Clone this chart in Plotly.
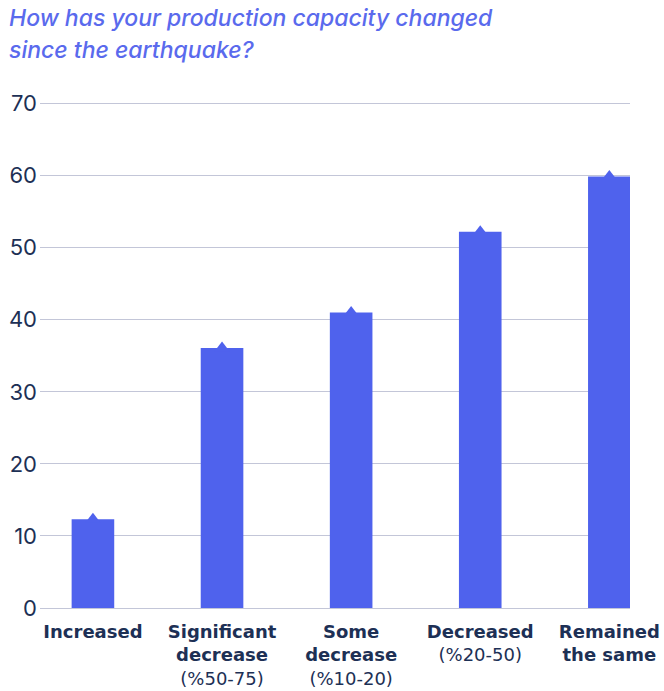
import plotly.graph_objects as go

# Survey answers and share of respondents (%)
categories = ["Increased", "Significant decrease", "Some decrease", "Decreased", "Remained the same"]
values = [12.3, 36.1, 41.0, 52.2, 59.9]
tick_labels = [
    "<b>Increased</b>",
    "<b>Significant</b><br><b>decrease</b><br>(%50-75)",
    "<b>Some</b><br><b>decrease</b><br>(%10-20)",
    "<b>Decreased</b><br>(%20-50)",
    "<b>Remained</b><br><b>the same</b>",
]
y_ticks = [0, 10, 20, 30, 40, 50, 60, 70]

BAR = "#4f62ed"
INK = "#1d3055"
GRID = "#c3c6d8"
FONT = "Inter, Roboto, sans-serif"
LABEL_FONT = "DejaVu Sans, sans-serif"

W, H = 664, 691
ML, MR, MT, MB = 40, 34, 100, 83
PW, PH = W - ML - MR, H - MT - MB

x_pos = list(range(len(categories)))

fig = go.Figure()
fig.add_trace(go.Bar(
    x=x_pos, y=values, width=0.33,
    marker=dict(color=BAR, line=dict(width=0)),
    hoverinfo="skip",
))
# small pointer on top of each bar
fig.add_trace(go.Scatter(
    x=x_pos, y=values, mode="markers",
    marker=dict(symbol="triangle-up", size=13, color=BAR, line=dict(width=0)),
    hoverinfo="skip", cliponaxis=False,
))

title_font = dict(size=23, color="#5a6aed", family=FONT, style="italic", weight=500)

fig.update_layout(
    width=W, height=H,
    margin=dict(l=ML, r=MR, t=MT, b=MB, autoexpand=False),
    paper_bgcolor="white", plot_bgcolor="white",
    showlegend=False,
    font=dict(family=FONT, color=INK),
    xaxis=dict(
        range=[-0.41, 4.16], automargin=False,
        tickmode="array", tickvals=x_pos, ticktext=tick_labels,
        tickfont=dict(size=18, color=INK, family=LABEL_FONT),
        showgrid=False, zeroline=False, showline=False, ticks="",
        ticklabelstandoff=11,
    ),
    yaxis=dict(
        range=[0, 70.5], automargin=False,
        tickmode="array", tickvals=y_ticks,
        tickfont=dict(size=22, color=INK, family=FONT),
        showgrid=True, gridcolor=GRID, gridwidth=1,
        zeroline=True, zerolinecolor=GRID, zerolinewidth=1,
        showline=False, ticks="", ticklabelstandoff=2,
    ),
    annotations=[
        dict(text="How has your production capacity changed",
             x=(7 - ML) / PW, y=1 + (MT - 18) / PH, xref="paper", yref="paper",
             xanchor="left", yanchor="middle", showarrow=False, font=title_font),
        dict(text="since the earthquake?",
             x=(7 - ML) / PW, y=1 + (MT - 50) / PH, xref="paper", yref="paper",
             xanchor="left", yanchor="middle", showarrow=False, font=title_font),
    ],
)

fig.write_html("out.html")
